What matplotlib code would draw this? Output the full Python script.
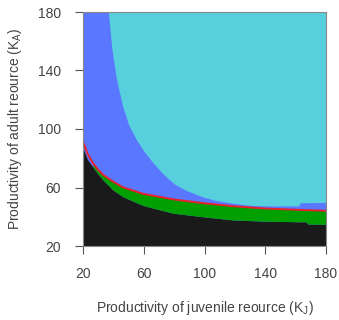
import numpy as np
import matplotlib
matplotlib.use("Agg")
from matplotlib import pyplot as plt

plt.rcParams['font.family'] = ['Liberation Sans', 'DejaVu Sans']

# juvenile resource productivity (K_J) sample points along the boundaries
kj = np.array([20, 23, 26.6, 30, 33.2, 39.8, 46.3, 59.5, 79.3, 99, 119, 139, 160, 167, 168, 180])
# top of the black region
black_top = np.array([86.8, 79, 73.8, 69, 65.1, 58.3, 53.7, 47.7, 42.4, 40.0, 37.8, 37.0, 36.6, 36.5, 35.0, 34.8])
# red line (upper edge of green band)
red_line = np.array([91.3, 83, 76.6, 72, 68.6, 64.0, 60.1, 55.7, 51.9, 49.3, 47.2, 45.7, 44.8, 44.5, 44.5, 44.1])
green_start = 25

# lower edge of the cyan region
kj_c = np.array([20, 36.7, 39, 42, 46, 50, 55, 60, 66, 73, 80, 88, 99, 108, 119, 128, 140, 162, 163, 180])
cyan_low = np.array([180, 180, 155, 134, 116, 103, 93, 85, 77, 69, 62.5, 58, 53.5, 51, 49.2, 48, 47.4, 47.4, 49.6, 49.8])

ticks = [20, 60, 100, 140, 180]

c_black = '#1a1a1a'
c_green = '#00a000'
c_red = '#e8202a'
c_blue = '#5a78ff'
c_cyan = '#58cfdd'
c_text = '#444444'

fig = plt.figure(figsize=(3.39, 3.20), dpi=100)
ax = fig.add_axes([83/339, 1-246/320, 243/339, 234/320])
ax.set_facecolor(c_blue)

ax.fill_between(kj_c, cyan_low, 180, color=c_cyan, lw=0)
ax.fill_between(kj, 20, black_top, color=c_black, lw=0)
ax.fill_between(kj, black_top, red_line, where=kj >= green_start, color=c_green, lw=0, interpolate=True)
ax.plot(kj, red_line, color=c_red, lw=1.4, solid_capstyle='butt')

ax.set_xlim(20, 180)
ax.set_ylim(20, 180)
ax.set_xticks(ticks)
ax.set_yticks(ticks)
ax.tick_params(length=6, width=0.8, color='#555555', labelcolor=c_text, labelsize=10, pad=9)
ax.tick_params(axis='y', pad=10)
for s in ax.spines.values():
    s.set_color('#888888')
    s.set_linewidth(0.8)

ax.set_xlabel(r'Productivity of juvenile reource (K$_\mathregular{J}$)', fontsize=10, color=c_text, labelpad=13)
ax.set_ylabel(r'Productivity of adult reource (K$_\mathregular{A}$)', fontsize=10, color=c_text, labelpad=10)

fig.savefig('out.png', dpi=100)
